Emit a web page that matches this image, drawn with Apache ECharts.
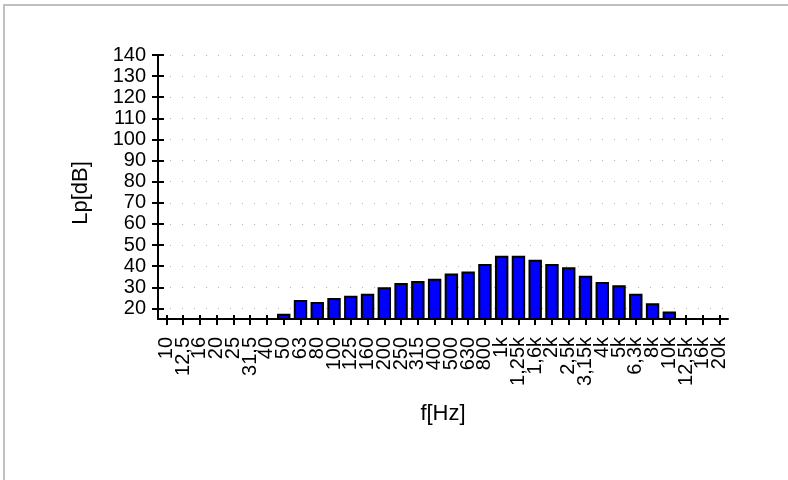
<!DOCTYPE html>
<html>
<head>
<meta charset="utf-8">
<script src="https://cdn.jsdelivr.net/npm/echarts@6/dist/echarts.min.js"></script>
<style>
  html, body { margin: 0; padding: 0; background: #fff; }
  #chart { width: 788px; height: 480px; }
</style>
</head>
<body>
<div id="chart"></div>
<script>
// third-octave bands
var bands = ['10', '12,5', '16', '20', '25', '31,5', '40', '50', '63', '80',
    '100', '125', '160', '200', '250', '315', '400', '500', '630', '800',
    '1k', '1,25k', '1,6k', '2k', '2,5k', '3,15k', '4k', '5k', '6,3k', '8k',
    '10k', '12,5k', '16k', '20k'];
// Lp per band, '-' = no bar
var levels = ['-', '-', '-', '-', '-', '-', '-', 17.5, 24, 23,
    25, 26, 27, 30, 32, 33, 34, 36.5, 37.5, 41,
    45, 45, 43, 41, 39.5, 35.5, 32.5, 31, 27, 22.5,
    18.5, '-', '-', '-'];
var yTicks = [20, 30, 40, 50, 60, 70, 80, 90, 100, 110, 120, 130, 140];

var font = 'Liberation Sans';
var chart = echarts.init(document.getElementById('chart'));

var tickStyle = { color: '#000', width: 2 };

var option = {
    animation: false,
    backgroundColor: '#fff',
    textStyle: { fontFamily: font },
    graphic: [{
        type: 'rect',
        shape: { x: 4, y: 5, width: 900, height: 600 },
        style: { fill: 'none', stroke: '#c0c0c0', lineWidth: 2 },
        silent: true
    }],
    grid: { left: 158, right: 60, top: 55, bottom: 161 },
    xAxis: [{
        type: 'category',
        data: bands,
        boundaryGap: true,
        name: 'f[Hz]',
        nameLocation: 'middle',
        nameGap: 84,
        nameTextStyle: { fontSize: 22, color: '#000', fontFamily: font },
        axisLine: { show: true, lineStyle: { color: '#000', width: 2 } },
        axisTick: { show: true, interval: 0, alignWithLabel: true, length: 6, lineStyle: tickStyle },
        axisLabel: { rotate: 90, interval: 0, margin: 18, fontSize: 20, color: '#000', fontFamily: font },
        splitLine: { show: false }
    }, {
        type: 'category',
        data: bands,
        position: 'bottom',
        offset: 0,
        axisLine: { show: false },
        axisTick: { show: true, interval: 0, inside: true, alignWithLabel: true, length: 4, lineStyle: tickStyle },
        axisLabel: { show: false },
        splitLine: { show: false }
    }],
    yAxis: [{
        type: 'value',
        min: 15,
        max: 140,
        splitNumber: 12,
        name: 'Lp[dB]',
        nameLocation: 'middle',
        nameRotate: 90,
        nameGap: 66,
        nameTextStyle: { fontSize: 22, color: '#000', fontFamily: font, padding: [0, 12, 0, 0] },
        axisLine: { show: true, lineStyle: { color: '#000', width: 2 } },
        axisTick: { show: true, length: 6, customValues: yTicks, lineStyle: tickStyle },
        axisLabel: { margin: 12, fontSize: 20, color: '#000', fontFamily: font, customValues: yTicks },
        splitLine: { show: true, lineStyle: { color: '#b4b4b4', width: 1, type: [1, 11] } }
    }, {
        type: 'value',
        min: 15,
        max: 140,
        splitNumber: 12,
        position: 'left',
        offset: 0,
        axisLine: { show: false },
        axisTick: { show: true, inside: true, length: 6, customValues: yTicks, lineStyle: tickStyle },
        axisLabel: { show: false },
        splitLine: { show: false }
    }],
    series: [{
        type: 'bar',
        data: levels,
        barCategoryGap: '20%',
        itemStyle: { color: '#0000ff', borderColor: '#000', borderWidth: 2 }
    }]
};
chart.setOption(option);
</script>
</body>
</html>
